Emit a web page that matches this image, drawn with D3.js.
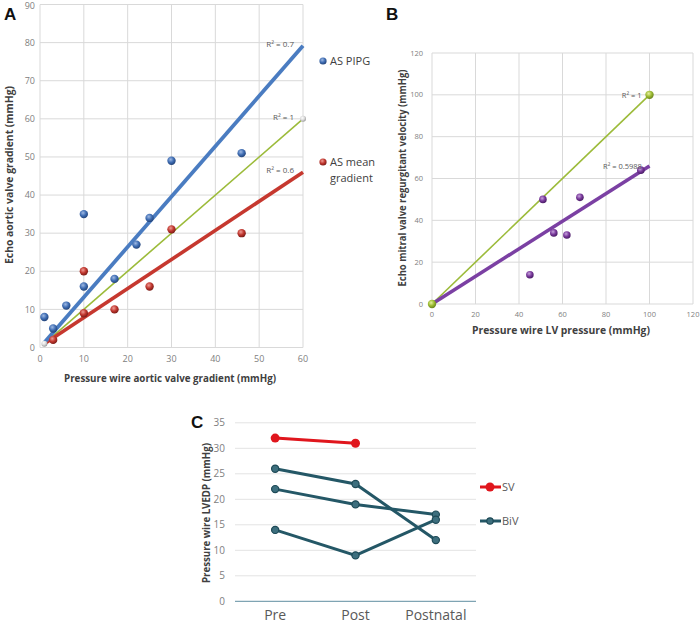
<!DOCTYPE html>
<html><head><meta charset="utf-8">
<script src="https://cdn.jsdelivr.net/npm/d3@7"></script>
<style>body{margin:0;background:#fff}svg{display:block}</style>
</head><body>
<svg id="c" width="700" height="624"></svg>
<script>
// ---------- Panel A data ----------
const aPipgX = [1, 3, 6, 10, 10, 17, 22, 25, 30, 46];
const aPipgY = [8, 5, 11, 35, 16, 18, 27, 34, 49, 51];
const aMeanX = [3, 10, 10, 17, 25, 30, 46];
const aMeanY = [2, 20, 9, 10, 16, 31, 30];
const aIdentX = [1, 60];
const aIdentY = [1, 60];
const aTrendNames = ["PIPG", "identity", "mean"];
const aTrendSlope = [1.32, 1, 0.763];
const aTrendIntercept = [0, 0, 0.2];
const aTrendLabels = ["R² = 0.7", "R² = 1", "R² = 0.6"];
const aXTicks = [0, 10, 20, 30, 40, 50, 60];
const aYTicks = [0, 10, 20, 30, 40, 50, 60, 70, 80, 90];
const aLegend = [["AS PIPG"], ["AS mean", "gradient"]];

// ---------- Panel B data ----------
const bX = [45, 51, 56, 62, 68, 96];
const bY = [14, 50, 34, 33, 51, 64];
const bIdentX = [0, 100];
const bIdentY = [0, 100];
const bTrendSlope = [1, 0.66];
const bTrendLabels = ["R² = 1", "R² = 0.5988"];
const bXTicks = [0, 20, 40, 60, 80, 100, 120];
const bYTicks = [0, 20, 40, 60, 80, 100, 120];

// ---------- Panel C data ----------
const cCategories = ["Pre", "Post", "Postnatal"];
const cSV = [[32, 31, null]];
const cBiV = [[26, 23, 12], [22, 19, 17], [14, 9, 16]];
const cYTicks = [0, 5, 10, 15, 20, 25, 30, 35];
const cLegend = ["SV", "BiV"];

const svg = d3.select("#c");
const FONT = "'Open Sans', 'Liberation Sans', sans-serif";
const defs = svg.append("defs");
function sphere(id, light, mid, dark) {
  const g = defs.append("radialGradient").attr("id", id)
    .attr("cx", "40%").attr("cy", "35%").attr("r", "65%");
  g.append("stop").attr("offset", "0%").attr("stop-color", light);
  g.append("stop").attr("offset", "55%").attr("stop-color", mid);
  g.append("stop").attr("offset", "100%").attr("stop-color", dark);
}
sphere("gBlue", "#9fb9e3", "#3f6db3", "#23447a");
sphere("gRed", "#ef9c95", "#c0372f", "#7c1c17");
sphere("gGray", "#ffffff", "#d9d9d9", "#9a9a9a");
sphere("gGreen", "#e6f0a0", "#9cbb32", "#6a8420");
sphere("gPurple", "#c7a3dd", "#7a3a9c", "#4a1c66");

function grid(g, x, y, xt, yt) {
  g.selectAll(".gx").data(xt).join("line")
    .attr("x1", d => x(d)).attr("x2", d => x(d))
    .attr("y1", y.range()[0]).attr("y2", y.range()[1])
    .attr("stroke", "#d9d9d9").attr("stroke-width", 1);
  g.selectAll(".gy").data(yt).join("line")
    .attr("y1", d => y(d)).attr("y2", d => y(d))
    .attr("x1", x.range()[0]).attr("x2", x.range()[1])
    .attr("stroke", "#d9d9d9").attr("stroke-width", 1);
}
function tickLabels(g, x, y, xt, yt, xLabY, yLabX, fs) {
  g.selectAll(".tx").data(xt).join("text")
    .attr("x", d => x(d)).attr("y", xLabY).attr("text-anchor", "middle")
    .attr("font-family", FONT).attr("font-size", fs).attr("fill", "#808080").text(d => d);
  g.selectAll(".ty").data(yt).join("text")
    .attr("x", yLabX).attr("y", d => Math.max(y(d) + fs * 0.35, fs)).attr("text-anchor", "end")
    .attr("font-family", FONT).attr("font-size", fs).attr("fill", "#808080").text(d => d);
}
function title(x, y, txt, len, rot) {
  const t = svg.append("text").attr("font-family", FONT).attr("font-weight", "bold")
    .attr("font-size", 11).attr("fill", "#404040").attr("text-anchor", "middle")
    .attr("textLength", len).attr("lengthAdjust", "spacingAndGlyphs").text(txt);
  if (rot) t.attr("transform", `translate(${x},${y}) rotate(-90)`);
  else t.attr("x", x).attr("y", y);
}
function panelLetter(x, y, t) {
  svg.append("text").attr("x", x).attr("y", y).attr("font-family", "'Liberation Sans', Arial, sans-serif")
    .attr("font-weight", "bold").attr("font-size", 17).attr("fill", "#111").text(t);
}

// ================= Panel A =================
{
  const x = d3.scaleLinear().domain([0, 60]).range([40, 303]);
  const y = d3.scaleLinear().domain([0, 90]).range([347.5, 4.5]);
  const g = svg.append("g");
  grid(g, x, y, aXTicks, aYTicks);
  tickLabels(g, x, y, aXTicks, aYTicks, 362, 35, 9);
  const colors = ["#4a7cc1", "#9cbb3a", "#c6382f"];
  const widths = [3.8, 1.6, 3.6];
  const drawOrder = [1, 2, 0];
  drawOrder.forEach(i => {
    g.append("line")
      .attr("x1", x(1)).attr("y1", y(aTrendIntercept[i] + aTrendSlope[i] * 1))
      .attr("x2", x(60)).attr("y2", y(aTrendIntercept[i] + aTrendSlope[i] * 60))
      .attr("stroke", colors[i]).attr("stroke-width", widths[i]);
  });
  g.selectAll(".pi").data(aIdentX).join("circle")
    .attr("cx", d => x(d)).attr("cy", (d, i) => y(aIdentY[i])).attr("r", 3)
    .attr("fill", "url(#gGray)");
  g.selectAll(".pm").data(aMeanX).join("circle")
    .attr("cx", d => x(d)).attr("cy", (d, i) => y(aMeanY[i])).attr("r", 4.2)
    .attr("fill", "url(#gRed)");
  g.selectAll(".pp").data(aPipgX).join("circle")
    .attr("cx", d => x(d)).attr("cy", (d, i) => y(aPipgY[i])).attr("r", 4.2)
    .attr("fill", "url(#gBlue)");
  [0, 1, 2].forEach(i => {
    g.append("text").attr("x", x(60) - 9).attr("y", y(aTrendIntercept[i] + aTrendSlope[i] * 60) + 1)
      .attr("text-anchor", "end").attr("font-family", FONT).attr("font-size", 8)
      .attr("fill", "#595959").text(aTrendLabels[i]);
  });
  const legY = [61, 162];
  const legFill = ["url(#gBlue)", "url(#gRed)"];
  aLegend.forEach((lines, i) => {
    g.append("circle").attr("cx", 323).attr("cy", legY[i]).attr("r", 3.6).attr("fill", legFill[i]);
    lines.forEach((t, j) => {
      g.append("text").attr("x", 330).attr("y", legY[i] + 4 + j * 16)
        .attr("font-family", FONT).attr("font-size", 11).attr("fill", "#404040").text(t);
    });
  });
  title(170, 382, "Pressure wire aortic valve gradient (mmHg)", 212, false);
  title(13, 175, "Echo aortic valve gradient (mmHg)", 178, true);
  panelLetter(4, 20, "A");
}

// ================= Panel B =================
{
  const x = d3.scaleLinear().domain([0, 120]).range([432, 693]);
  const y = d3.scaleLinear().domain([0, 120]).range([304, 53]);
  const g = svg.append("g");
  grid(g, x, y, bXTicks, bYTicks);
  tickLabels(g, x, y, bXTicks, bYTicks, 317, 423, 7.5);
  const colors = ["#9cbb3a", "#7b40a3"];
  const widths = [1.6, 3.6];
  [0, 1].forEach(i => {
    g.append("line")
      .attr("x1", x(0)).attr("y1", y(0))
      .attr("x2", x(100)).attr("y2", y(bTrendSlope[i] * 100))
      .attr("stroke", colors[i]).attr("stroke-width", widths[i]);
  });
  g.selectAll(".pb").data(bX).join("circle")
    .attr("cx", d => x(d)).attr("cy", (d, i) => y(bY[i])).attr("r", 3.8)
    .attr("fill", "url(#gPurple)");
  g.selectAll(".pg").data(bIdentX).join("circle")
    .attr("cx", d => x(d)).attr("cy", (d, i) => y(bIdentY[i])).attr("r", 4.2)
    .attr("fill", "url(#gGreen)");
  g.append("text").attr("x", x(100) - 8).attr("y", y(100) + 3).attr("text-anchor", "end")
    .attr("font-family", FONT).attr("font-size", 7.5).attr("fill", "#595959").text(bTrendLabels[0]);
  g.append("text").attr("x", x(80) - 3).attr("y", y(66) + 3).attr("text-anchor", "start")
    .attr("font-family", FONT).attr("font-size", 7.5).attr("fill", "#595959").text(bTrendLabels[1]);
  title(561, 334, "Pressure wire LV pressure (mmHg)", 178, false);
  title(406, 178, "Echo mitral valve regurgitant velocity (mmHg)", 217, true);
  panelLetter(386, 20, "B");
}

// ================= Panel C =================
{
  const x = d3.scalePoint().domain(cCategories).range([235, 476]).padding(0.5);
  const y = d3.scaleLinear().domain([0, 35]).range([601.3, 422.8]);
  const g = svg.append("g");
  g.selectAll(".gy").data(cYTicks.slice(1)).join("line")
    .attr("x1", 235).attr("x2", 476).attr("y1", d => y(d)).attr("y2", d => y(d))
    .attr("stroke", "#e3e3e3").attr("stroke-width", 1);
  g.append("line").attr("x1", 235).attr("x2", 476).attr("y1", y(0)).attr("y2", y(0))
    .attr("stroke", "#5f8ea0").attr("stroke-width", 1);
  g.selectAll(".ty").data(cYTicks).join("text")
    .attr("x", 225).attr("y", d => y(d) + 3.5).attr("text-anchor", "end")
    .attr("font-family", FONT).attr("font-size", 10).attr("fill", "#808080").text(d => d);
  g.selectAll(".tx").data(cCategories).join("text")
    .attr("x", d => x(d)).attr("y", 620).attr("text-anchor", "middle")
    .attr("font-family", FONT).attr("font-size", 14).attr("fill", "#595959").text(d => d);
  const line = d3.line().defined(d => d.v !== null).x(d => x(d.c)).y(d => y(d.v));
  const teal = "#245766", red = "#e0161d";
  cBiV.forEach(s => {
    const pts = s.map((v, i) => ({ c: cCategories[i], v }));
    g.append("path").attr("d", line(pts)).attr("fill", "none").attr("stroke", teal).attr("stroke-width", 3);
    g.selectAll(null).data(pts.filter(p => p.v !== null)).join("circle")
      .attr("cx", d => x(d.c)).attr("cy", d => y(d.v)).attr("r", 3.6)
      .attr("fill", "#3d6f7e").attr("stroke", "#1e4a57").attr("stroke-width", 1.2);
  });
  cSV.forEach(s => {
    const pts = s.map((v, i) => ({ c: cCategories[i], v }));
    g.append("path").attr("d", line(pts)).attr("fill", "none").attr("stroke", red).attr("stroke-width", 3);
    g.selectAll(null).data(pts.filter(p => p.v !== null)).join("circle")
      .attr("cx", d => x(d.c)).attr("cy", d => y(d.v)).attr("r", 4.5)
      .attr("fill", red);
  });
  const legY = [487, 521];
  const legCol = [red, teal];
  const legR = [4.5, 3.2];
  cLegend.forEach((t, i) => {
    g.append("line").attr("x1", 480).attr("x2", 501).attr("y1", legY[i]).attr("y2", legY[i])
      .attr("stroke", legCol[i]).attr("stroke-width", 3);
    g.append("circle").attr("cx", 490).attr("cy", legY[i]).attr("r", legR[i])
      .attr("fill", i === 0 ? red : "#3d6f7e").attr("stroke", i === 0 ? "none" : "#1e4a57").attr("stroke-width", 1.2);
    g.append("text").attr("x", 502).attr("y", legY[i] + 4)
      .attr("font-family", FONT).attr("font-size", 11).attr("fill", "#595959").text(t);
  });
  title(210, 513, "Pressure wire LVEDP (mmHg)", 140, true);
  svg.append("text").attr("x", 191).attr("y", 428).attr("font-family", "'Liberation Sans', Arial, sans-serif")
    .attr("font-weight", "bold").attr("font-size", 17).attr("fill", "#111").text("C");
}
</script>
</body></html>
